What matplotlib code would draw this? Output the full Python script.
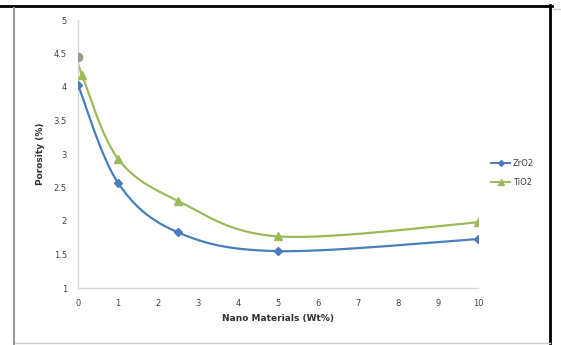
import numpy as np
import matplotlib.pyplot as plt
from matplotlib.lines import Line2D

# porosity vs. nano material content
zro2_x = [0, 1, 2.5, 5, 10]
zro2_y = [4.03, 2.57, 1.83, 1.55, 1.73]
tio2_x = [0, 0.1, 1, 2.5, 5, 10]
tio2_y = [4.45, 4.18, 2.93, 2.30, 1.77, 1.98]
x_ticks = list(range(0, 11))
y_ticks = [1, 1.5, 2, 2.5, 3, 3.5, 4, 4.5, 5]

W, H = 561, 345


def smooth(xs, ys, sx, sy, n=40):
    # excel-like smoothed line: catmull-rom bezier computed in screen units
    p = np.column_stack([np.array(xs) * sx, np.array(ys) * sy])
    out = []
    for i in range(len(p) - 1):
        p0 = p[i - 1] if i > 0 else p[i]
        p3 = p[i + 2] if i + 2 < len(p) else p[i + 1]
        c1 = p[i] + (p[i + 1] - p0) / 6
        c2 = p[i + 1] - (p3 - p[i]) / 6
        t = np.linspace(0, 1, n)[:, None]
        seg = ((1 - t) ** 3) * p[i] + 3 * ((1 - t) ** 2) * t * c1 + 3 * (1 - t) * t ** 2 * c2 + t ** 3 * p[i + 1]
        out.append(seg)
    out = np.vstack(out)
    return out[:, 0] / sx, out[:, 1] / sy


fig = plt.figure(figsize=(W / 100, H / 100), dpi=100)
ax = fig.add_axes([78 / W, 1 - 288 / H, 400 / W, 268 / H])

sx, sy = 40, 67  # pixels per unit
blue = '#4a7ebb'
green = '#9bbb59'

bx, by = smooth(zro2_x, zro2_y, sx, sy)
gx, gy = smooth(tio2_x, tio2_y, sx, sy)
ax.plot(gx, gy, color=green, lw=1.6, zorder=2)
ax.plot(bx, by, color=blue, lw=1.6, zorder=3)
ax.plot(tio2_x[1:], tio2_y[1:], ls='none', marker='^', color=green, ms=6, zorder=4)
ax.plot(tio2_x[:1], tio2_y[:1], ls='none', marker='o', color='#9a9a8a', ms=6, zorder=4)
ax.plot(zro2_x, zro2_y, ls='none', marker='D', color=blue, ms=4.5, zorder=5)

ax.set_xlim(0, 10)
ax.set_ylim(1, 5)
ax.set_xticks(x_ticks)
ax.set_yticks(y_ticks)
ax.set_yticklabels([('%g' % v) for v in y_ticks])
ax.tick_params(length=0, labelsize=6, colors='#444444', pad=8)
for s in ['top', 'right']:
    ax.spines[s].set_visible(False)
for s in ['left', 'bottom']:
    ax.spines[s].set_color('#d9d9d9')
    ax.spines[s].set_linewidth(1)
ax.set_xlabel('Nano Materials (Wt%)', fontsize=6.5, fontweight='bold', color='#333333', labelpad=4)
ax.set_ylabel('Porosity (%)', fontsize=6.5, fontweight='bold', color='#333333', labelpad=6)

handles = [Line2D([], [], color=blue, marker='D', ms=3, lw=1.4),
           Line2D([], [], color=green, marker='^', ms=4, lw=1.4)]
fig.legend(handles, ['ZrO2', 'TiO2'], loc='center left', bbox_to_anchor=(488 / W, 1 - 173 / H),
           frameon=False, fontsize=6, handlelength=2.2, labelspacing=1.2,
           labelcolor='#444444', borderaxespad=0, handletextpad=0.4)

# surrounding frame lines
fig.add_artist(Line2D([0, 552 / W], [1 - 6 / H, 1 - 6 / H], color='black', lw=2))
fig.add_artist(Line2D([550 / W, 550 / W], [0, 1 - 5 / H], color='black', lw=2))
fig.add_artist(Line2D([14 / W, 14 / W], [0, 1 - 8 / H], color='#999999', lw=1.5))
fig.add_artist(Line2D([15 / W, 550 / W], [1 - 343 / H, 1 - 343 / H], color='#cccccc', lw=1))
fig.add_artist(Line2D([553 / W, 1], [1 - 9 / H, 1 - 9 / H], color='#cccccc', lw=1))

fig.savefig('out.png', dpi=100)
